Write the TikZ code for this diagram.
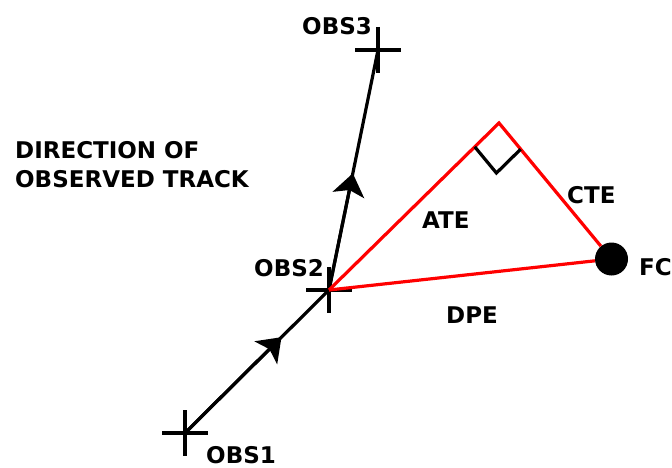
\documentclass[tikz,border=0pt]{standalone}
\usepackage{fontspec}
\setmainfont{DejaVu Sans}
\usepackage{tikz}
\usetikzlibrary{positioning, arrows.meta, calc}
\definecolor{errred}{RGB}{255, 0, 0}

\begin{document}
\begin{tikzpicture}[x=1pt, y=-1pt,
  obscross/.pic={
    \draw[line width=3.2pt] (-23,0) -- (23,0);
    \draw[line width=3.2pt] (0,-23) -- (0,23);
  },
  track/.style={line width=3.2pt, draw=black},
  trackarrow/.style={track, -{Stealth[length=22pt, width=32pt, inset=5pt]}},
  err/.style={line width=3.2pt, draw=errred},
  lbl/.style={font=\fontsize{23}{28.5}\selectfont\bfseries, inner sep=0pt}
]
    \useasboundingbox (0,0) rectangle (672,468);

    % observations along the track
    \coordinate (obs1) at (185,433);
    \coordinate (obs2) at (329,290);
    \coordinate (obs3) at (378,50);
    \pic at (obs1) {obscross};
    \pic at (obs2) {obscross};
    \pic at (obs3) {obscross};

    \draw[track] (obs1) -- (obs2);
    \draw[trackarrow] (obs1) -- ($(obs1)!0.67!(obs2)$);
    \draw[track] (obs2) -- (obs3);
    \draw[trackarrow] (obs2) -- ($(obs2)!0.486!(obs3)$);

    % forecast position and errors
    \node[circle, fill=black, minimum size=33pt, inner sep=0pt] (fc) at (611.5,259) {};
    \coordinate (apex) at (499,123);
    \draw[err] (obs2) -- (apex) -- (fc);
    \draw[err] (obs2) -- (fc);

    \coordinate (ra1) at ($(apex)!34pt!(obs2)$);
    \coordinate (ra2) at ($(apex)!34pt!(fc)$);
    \draw[line width=3.2pt] (ra1) -- ($(ra1)+(ra2)-(apex)$) -- (ra2);

    % labels
    \node[lbl, anchor=base west] (lobs1) at (206,463) {OBS1};
    \node[lbl, anchor=base west] (lobs2) at (254,276) {OBS2};
    \node[lbl, anchor=base west] (lobs3) at (302,35) {OBS3};
    \node[lbl, anchor=base west] (lfc) at (639,275) {FC};
    \node[lbl, anchor=base west] (late) at (422,228) {ATE};
    \node[lbl, anchor=base west] (ldpe) at (446,323) {DPE};
    \node[lbl, anchor=base west] (lcte) at (567,204) {CTE};
    \node[lbl, anchor=north west, align=left] (ldir) at (15,141.5) {DIRECTION OF\\OBSERVED TRACK};
\end{tikzpicture}
\end{document}
